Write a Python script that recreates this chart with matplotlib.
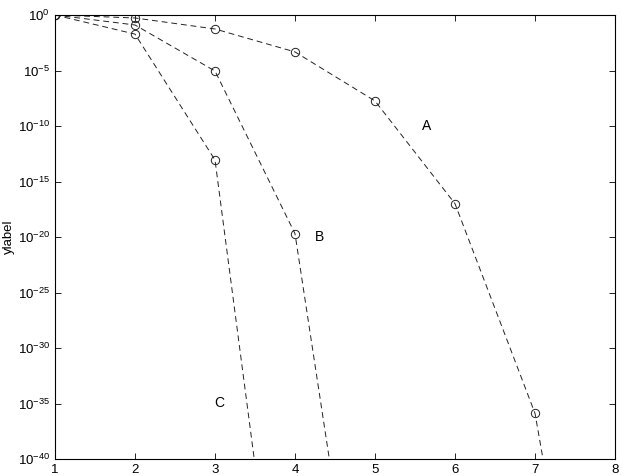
import numpy as np
import matplotlib
matplotlib.use("Agg")
import matplotlib.pyplot as plt
from matplotlib.ticker import FixedLocator, NullLocator, LogFormatterMathtext

plt.rcParams['font.family'] = ['Liberation Sans', 'DejaVu Sans']
plt.rcParams['mathtext.fontset'] = 'custom'
plt.rcParams['mathtext.rm'] = 'Liberation Sans'
plt.rcParams['mathtext.it'] = 'Liberation Sans:italic'
plt.rcParams['mathtext.bf'] = 'Liberation Sans:bold'

# данные
x_a = [1, 2, 3, 4, 5, 6, 7, 8]
y_a = [1.0, 0.54, 0.055, 4.7e-4, 1.8e-8, 1e-17, 1.3e-36, 1e-77]
x_b = [1, 2, 3, 4, 5]
y_b = [1.0, 0.126, 9e-6, 2e-20, 1e-67]
x_c = [1, 2, 3, 4]
y_c = [1.0, 0.019, 8.7e-14, 1e-68]

curve_labels = ['A', 'B', 'C']
label_pos = [(5.65, 1e-10), (4.3, 1e-20), (3.05, 1.2e-35)]

xticks = [1, 2, 3, 4, 5, 6, 7, 8]
yticks = [1e-40, 1e-35, 1e-30, 1e-25, 1e-20, 1e-15, 1e-10, 1e-5, 1e0]

fig = plt.figure(figsize=(6.23, 4.76), dpi=100)
ax = fig.add_axes([55 / 623, 17 / 476, 560 / 623, 444 / 476])

for xs, ys in [(x_a, y_a), (x_b, y_b), (x_c, y_c)]:
    ax.semilogy(xs, ys, color='#222222', linestyle=(0, (6, 4)), linewidth=0.7,
                marker='o', markersize=6, markerfacecolor='none',
                markeredgewidth=0.7, markeredgecolor='#222222')

for lab, (lx, ly) in zip(curve_labels, label_pos):
    ax.text(lx, ly, lab, fontsize=10, ha='center', va='center')

ax.set_xlim(1, 8)
ax.set_ylim(1e-40, 1e0)
ax.xaxis.set_major_locator(FixedLocator(xticks))
ax.yaxis.set_major_locator(FixedLocator(yticks))
ax.yaxis.set_minor_locator(NullLocator())
ax.yaxis.set_major_formatter(LogFormatterMathtext())
ax.tick_params(direction='in', top=True, right=True, length=4, width=0.6,
               labelsize=9.5)
for sp in ax.spines.values():
    sp.set_linewidth(0.8)
ax.set_ylabel('ylabel', fontsize=9.5)
ax.yaxis.set_label_coords(-0.071, 0.5)

fig.savefig('out.png', dpi=100)
